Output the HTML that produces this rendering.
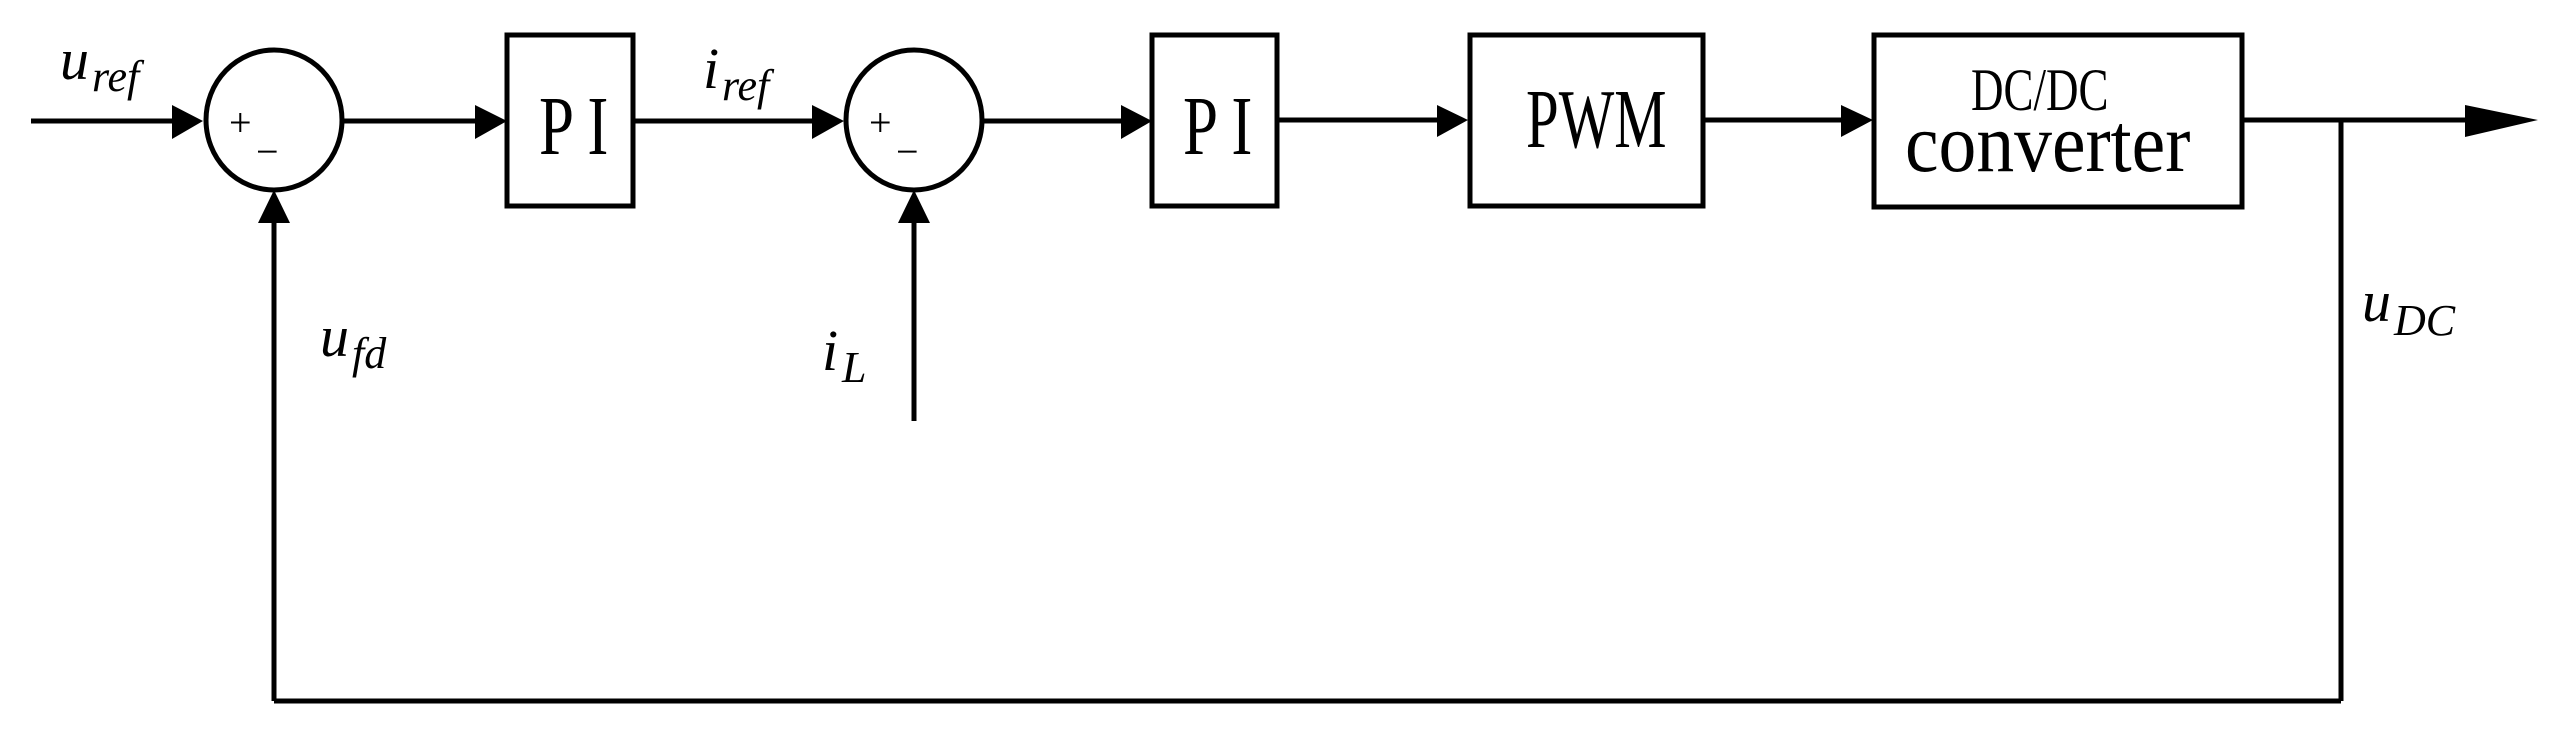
<!DOCTYPE html>
<html><head><meta charset="utf-8"><style>
html,body{margin:0;padding:0;background:#fff;}
svg{display:block;}
text{font-family:"Liberation Serif",serif;fill:#000;}
</style></head><body>
<svg width="2565" height="731" viewBox="0 0 2565 731" xmlns="http://www.w3.org/2000/svg">
<g stroke="#000" stroke-width="5" fill="none">
<line x1="31" y1="121" x2="180" y2="121"/>
<ellipse cx="274" cy="120" rx="68" ry="70"/>
<line x1="342" y1="121" x2="480" y2="121"/>
<rect x="507" y="35" width="126" height="171"/>
<line x1="633" y1="121" x2="815" y2="121"/>
<ellipse cx="914" cy="120" rx="68" ry="70"/>
<line x1="982" y1="121" x2="1125" y2="121"/>
<rect x="1152" y="35" width="125" height="171"/>
<line x1="1277" y1="120" x2="1440" y2="120"/>
<rect x="1470" y="35" width="233" height="171"/>
<line x1="1703" y1="120" x2="1845" y2="120"/>
<rect x="1874" y="35" width="368" height="172"/>
<line x1="2242" y1="120" x2="2470" y2="120"/>
<line x1="2341" y1="120" x2="2341" y2="701"/>
<line x1="274" y1="701" x2="2341" y2="701"/>
<line x1="274" y1="215" x2="274" y2="701"/>
<line x1="914" y1="215" x2="914" y2="421"/>
</g>
<g fill="#000">
<polygon points="203,121 172,105 172,139"/>
<polygon points="507,121 475,105 475,139"/>
<polygon points="844,121 812,105 812,139"/>
<polygon points="1152,121 1121,105 1121,139"/>
<polygon points="1468,120 1437,105 1437,137"/>
<polygon points="1873,120 1841,105 1841,137"/>
<polygon points="2538,120 2465,105 2465,137"/>
<polygon points="274,190 258,223 290,223"/>
<polygon points="914,190 898,223 930,223"/>
</g>
<g font-size="40">
<text x="229" y="136">+</text><text x="256" y="165">−</text>
<text x="869" y="136">+</text><text x="896" y="165">−</text>
</g>
<g font-size="84">
<text x="539" y="154" transform="translate(539 0) scale(0.75 1) translate(-539 0)">P I</text>
<text x="1183" y="154" transform="translate(1183 0) scale(0.75 1) translate(-1183 0)">P I</text>
<text x="1526" y="147" transform="translate(1526 0) scale(0.7 1) translate(-1526 0)">PWM</text>
</g>
<text x="1971" y="110" font-size="60" transform="translate(1971 0) scale(0.75 1) translate(-1971 0)">DC/DC</text>
<text x="1905" y="171" font-size="84" transform="translate(1905 0) scale(0.9 1) translate(-1905 0)">converter</text>
<g font-style="italic">
<text x="60" y="79" font-size="58">u</text><text x="92" y="91" font-size="44">ref</text>
<text x="703" y="88" font-size="58">i</text><text x="722" y="100" font-size="44">ref</text>
<text x="320" y="356" font-size="58">u</text><text x="352" y="368" font-size="44">fd</text>
<text x="822" y="370" font-size="58">i</text><text x="842" y="382" font-size="44">L</text>
<text x="2362" y="321" font-size="58">u</text><text x="2394" y="335" font-size="44">DC</text>
</g>
</svg>
</body></html>
